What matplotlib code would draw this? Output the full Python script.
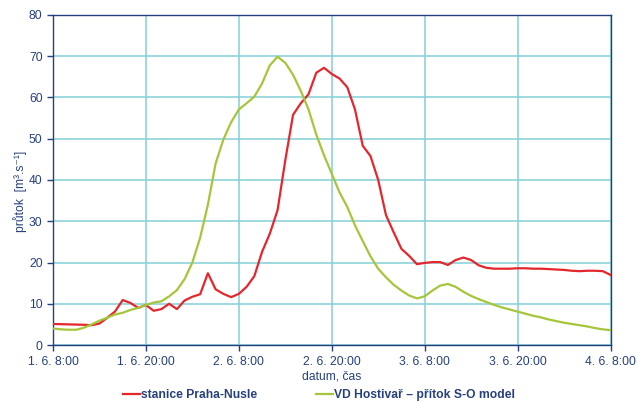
import matplotlib
matplotlib.use("Agg")
import matplotlib.pyplot as plt
import numpy as np
import pandas as pd

plt.rcParams["font.family"] = ["Liberation Sans", "DejaVu Sans"]

# hourly flow values from 1. 6. 8:00 to 4. 6. 8:00
start = pd.Timestamp("2013-06-01 08:00")
hours = np.arange(73)

nusle = [
    5.1, 5.05, 5.0, 4.95, 4.9, 4.8, 5.2, 6.6, 8.1, 10.9,
    10.2, 9.0, 9.7, 8.3, 8.7, 10.0, 8.7, 10.8, 11.7, 12.3,
    17.4, 13.5, 12.4, 11.6, 12.4, 14.1, 16.7, 22.6, 27.0, 32.7,
    44.8, 55.8, 58.6, 60.8, 66.0, 67.2, 65.7, 64.6, 62.5, 57.1,
    48.3, 45.8, 40.0, 31.5, 27.3, 23.3, 21.6, 19.6, 19.9, 20.1,
    20.1, 19.4, 20.6, 21.2, 20.6, 19.3, 18.7, 18.5, 18.5, 18.5,
    18.6, 18.6, 18.5, 18.5, 18.4, 18.3, 18.2, 18.0, 17.9, 18.0,
    18.0, 17.9, 17.0,
]

hostivar = [
    4.0, 3.8, 3.7, 3.7, 4.2, 5.0, 5.9, 6.6, 7.4, 7.8,
    8.5, 9.0, 9.7, 10.3, 10.6, 11.8, 13.3, 16.0, 20.0, 26.0,
    34.0, 44.0, 49.8, 54.0, 57.1, 58.6, 60.2, 63.4, 67.8, 69.9,
    68.4, 65.5, 61.6, 57.1, 51.0, 46.0, 41.5, 37.0, 33.5, 29.0,
    25.2, 21.5, 18.5, 16.4, 14.6, 13.2, 12.0, 11.3, 11.8, 13.2,
    14.4, 14.8, 14.1, 12.9, 11.9, 11.1, 10.4, 9.7, 9.1, 8.6,
    8.1, 7.6, 7.1, 6.7, 6.2, 5.8, 5.4, 5.1, 4.8, 4.5,
    4.1, 3.8, 3.6,
]

tick_labels = ["1. 6. 8:00", "1. 6. 20:00", "2. 6. 8:00", "2. 6. 20:00",
               "3. 6. 8:00", "3. 6. 20:00", "4. 6. 8:00"]

times = start + pd.to_timedelta(hours, unit="h")
tick_times = pd.date_range(start, periods=len(tick_labels), freq="12h")

navy = "#26407e"
red = "#e5272d"
green = "#a5c63b"
grid = "#84cfd9"

fig = plt.figure(figsize=(6.38, 4.03), dpi=100)
ax = fig.add_axes([0.0831, 0.1439, 0.8738, 0.8189])

ax.plot(times, nusle, color=red, lw=1.6, label="stanice Praha-Nusle", zorder=3)
ax.plot(times, hostivar, color=green, lw=1.6,
        label="VD Hostivař – přítok S-O model", zorder=3)

ax.set_xlim(times[0], times[-1])
ax.set_ylim(0, 80)
ax.set_yticks(range(0, 81, 10))
ax.set_xticks(tick_times)
ax.set_xticklabels(tick_labels)

ax.grid(True, color=grid, lw=1.1)
ax.set_axisbelow(True)
for sp in ax.spines.values():
    sp.set_color(navy)
    sp.set_linewidth(1.0)

ax.tick_params(colors=navy, labelcolor=navy, labelsize=8.7, length=4, width=1.0)
ax.tick_params(axis="x", pad=4)

ax.set_xlabel("datum, čas", color=navy, fontsize=8.7, labelpad=2)
ax.set_ylabel("průtok  [m³.s⁻¹]", color=navy, fontsize=8.7)
ax.yaxis.set_label_coords(-0.046, 0.465)

leg = fig.legend(loc="lower center", bbox_to_anchor=(0.5, -0.022), ncol=2,
                 frameon=False, handlelength=1.4, handletextpad=0.1,
                 columnspacing=4.9, prop={"weight": "bold", "size": 8.7})
for t in leg.get_texts():
    t.set_color(navy)

fig.savefig("out.png", dpi=100)
